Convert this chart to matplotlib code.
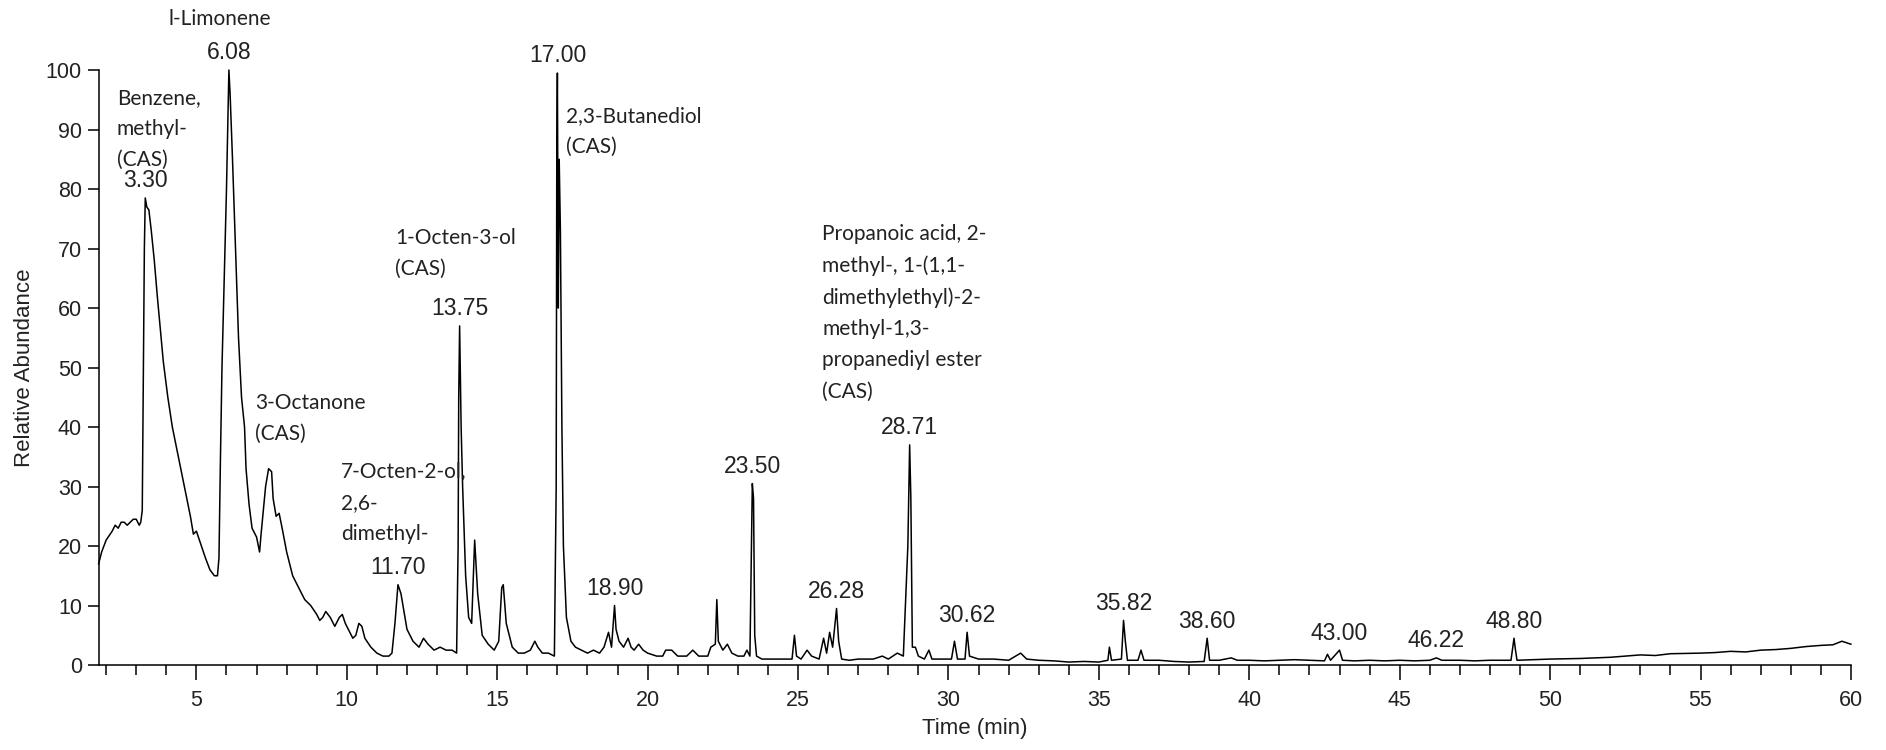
import numpy as np
import matplotlib.pyplot as plt
from matplotlib.ticker import MultipleLocator

# chromatogram trace (time in min, relative abundance)
time_min = [
    1.75, 1.85, 2.0, 2.2, 2.3, 2.4, 2.5, 2.6, 2.7, 2.8, 2.9, 3.0, 3.1, 3.15,
    3.2, 3.24, 3.27, 3.3, 3.35, 3.42, 3.5, 3.6, 3.7, 3.9, 4.05, 4.2, 4.4, 4.6,
    4.8, 4.9, 5.0, 5.1, 5.3, 5.45, 5.6, 5.7, 5.75, 5.8, 5.85, 5.95, 6.0,
    6.05, 6.08, 6.12, 6.2, 6.3, 6.4, 6.5, 6.6, 6.65, 6.75, 6.85, 7.0, 7.1,
    7.15, 7.3, 7.4, 7.5, 7.55, 7.65, 7.75, 7.85, 8.0, 8.2, 8.35, 8.45, 8.6,
    8.8, 9.0, 9.1, 9.2, 9.3, 9.45, 9.6, 9.75, 9.85, 9.95, 10.1, 10.2, 10.3,
    10.4, 10.5, 10.6, 10.8, 11.0, 11.2, 11.4, 11.5, 11.6, 11.7, 11.8, 11.9,
    12.0, 12.2, 12.4, 12.55, 12.7, 12.9, 13.1, 13.3, 13.5, 13.65, 13.7,
    13.72, 13.75, 13.8, 13.85, 13.95, 14.05, 14.15, 14.25, 14.35, 14.5,
    14.7, 14.9, 15.05, 15.15, 15.2, 15.3, 15.4, 15.5, 15.7, 15.9, 16.1,
    16.25, 16.35, 16.5, 16.7, 16.9, 16.96, 16.98, 17.0, 17.03, 17.06, 17.1,
    17.15, 17.2, 17.3, 17.45, 17.6, 17.8, 18.0, 18.2, 18.4, 18.55, 18.7, 18.8,
    18.9, 18.95, 19.05, 19.2, 19.35, 19.45, 19.55, 19.7, 19.85, 20.0, 20.3,
    20.5, 20.6, 20.8, 21.0, 21.3, 21.5, 21.7, 22.0, 22.1, 22.25, 22.3,
    22.35, 22.5, 22.65, 22.8, 23.0, 23.2, 23.3, 23.4, 23.48, 23.52, 23.56,
    23.62, 23.8, 24.0, 24.5, 24.8, 24.88, 24.95, 25.1, 25.3, 25.45, 25.7,
    25.85, 25.95, 26.05, 26.15, 26.28, 26.35, 26.45, 26.7, 27.0, 27.5, 27.8,
    28.0, 28.3, 28.5, 28.65, 28.71, 28.75, 28.8, 28.9, 29.0, 29.2, 29.35,
    29.45, 29.8, 30.1, 30.2, 30.3, 30.55, 30.62, 30.7, 31.0, 31.5, 32.0,
    32.4, 32.6, 33.0, 33.5, 34.0, 34.5, 35.0, 35.3, 35.35, 35.42, 35.75,
    35.82, 35.88, 35.95, 36.3, 36.4, 36.5, 37.0, 37.5, 38.0, 38.5, 38.6,
    38.68, 39.0, 39.4, 39.6, 40.0, 40.5, 41.0, 41.5, 42.0, 42.5, 42.6, 42.7,
    43.0, 43.1, 43.5, 44.0, 44.5, 45.0, 45.5, 46.0, 46.22, 46.4, 47.0, 47.5,
    48.0, 48.7, 48.8, 48.85, 48.9, 49.5, 50.0, 51.0, 52.0, 53.0, 53.5, 54.0,
    55.0, 55.5, 56.0, 56.5, 57.0, 57.5, 58.0, 58.5, 59.0, 59.4, 59.7, 60.0,
]
abundance = [
    17, 19, 21, 22.5, 23.5, 23, 24, 24, 23.5, 24, 24.5, 24.5, 23.5, 24,
    26, 50, 70, 78.5, 77, 76.5, 73, 68, 62, 51, 45, 40, 35, 30,
    25, 22, 22.5, 21, 18, 16, 15, 15, 18, 35, 50, 70, 80,
    92, 100, 96, 85, 70, 55, 45, 40, 33, 27, 23, 21.5, 19,
    22, 30, 33, 32.5, 28, 25, 25.5, 23, 19, 15, 13.5, 12.5, 11,
    10, 8.5, 7.5, 8, 9, 8, 6.5, 8, 8.5, 7, 5.5, 4.5, 5,
    7, 6.5, 4.5, 3, 2, 1.5, 1.5, 2, 7, 13.5, 12, 9,
    6, 4, 3, 4.5, 3.5, 2.5, 3, 2.5, 2.5, 2, 20,
    45, 57, 40, 30, 15, 8, 7, 21, 12, 5,
    3.5, 2.5, 4, 13, 13.5, 7, 5, 3, 2, 2, 2.5,
    4, 3, 2, 2, 1.5, 30, 86, 99.5, 60, 85, 73,
    40, 20, 8, 4, 3, 2.5, 2, 2.5, 2, 3, 5.5, 3,
    10, 6, 4, 3, 4.5, 3, 2.5, 3.5, 2.5, 2, 1.5,
    1.5, 2.5, 2.5, 1.5, 1.5, 2.5, 1.5, 1.5, 3, 3.5, 11,
    4, 2.5, 3.5, 2, 1.5, 1.5, 2.5, 1.5, 30.5, 28, 5,
    1.5, 1, 1, 1, 1, 5, 1.5, 1, 2.5, 1.5, 1,
    4.5, 2, 5.5, 3, 9.5, 4, 1, 0.8, 1, 1, 1.5,
    1, 2, 1.5, 20, 37, 28, 3, 3, 1.5, 1, 2.5,
    1, 1, 1, 4, 1, 1, 5.5, 1.5, 1, 1, 0.8,
    2, 1, 0.8, 0.7, 0.5, 0.6, 0.5, 0.8, 3, 0.8, 1,
    7.5, 4, 0.8, 0.8, 2.5, 0.8, 0.8, 0.6, 0.5, 0.6, 4.5,
    0.8, 0.8, 1.2, 0.8, 0.8, 0.7, 0.8, 0.9, 0.8, 0.7, 1.8, 0.8,
    2.5, 0.8, 0.7, 0.8, 0.7, 0.8, 0.7, 0.8, 1.2, 0.8, 0.8, 0.7,
    0.8, 0.8, 4.5, 2.5, 0.8, 0.9, 1.0, 1.1, 1.3, 1.7, 1.6, 1.9,
    2.0, 2.1, 2.3, 2.2, 2.5, 2.6, 2.8, 3.1, 3.3, 3.4, 4.0, 3.5,
]

# retention times that carry a number label
peak_rt = [3.30, 6.08, 11.70, 13.75, 17.00, 18.90, 23.50, 26.28, 28.71,
           30.62, 35.82, 38.60, 43.00, 46.22, 48.80]

# compound names: text, x (min), top y (abundance), alignment
names = [
    "l-Limonene",
    "Benzene,\nmethyl-\n(CAS)",
    "3-Octanone\n(CAS)",
    "7-Octen-2-ol,\n2,6-\ndimethyl-",
    "1-Octen-3-ol\n(CAS)",
    "2,3-Butanediol\n(CAS)",
    "Propanoic acid, 2-\nmethyl-, 1-(1,1-\ndimethylethyl)-2-\nmethyl-1,3-\npropanediyl ester\n(CAS)",
]
names_x = [5.76, 2.36, 6.96, 9.8, 11.6, 17.3, 25.8]
names_y = [110.2, 97.0, 45.8, 34.2, 73.5, 94.0, 74.2]
names_ha = ["center", "left", "left", "left", "left", "left", "left"]

t = np.array(time_min)
a = np.array(abundance)

fig = plt.figure(figsize=(18.86, 7.5), dpi=100)
ax = fig.add_axes([0.0523, 0.1133, 0.9291, 0.7933])

ax.plot(t, a, color="black", lw=1.1, clip_on=False)

ax.set_xlim(1.75, 60)
ax.set_ylim(0, 100)
ax.spines["top"].set_visible(False)
ax.spines["right"].set_visible(False)
for s in ("left", "bottom"):
    ax.spines[s].set_linewidth(1.1)

ax.xaxis.set_major_locator(MultipleLocator(5))
ax.xaxis.set_minor_locator(MultipleLocator(1))
ax.yaxis.set_major_locator(MultipleLocator(10))
ax.tick_params(axis="x", which="major", length=11, width=1.1, pad=7,
               labelsize=15.5)
ax.tick_params(axis="x", which="minor", length=7, width=1.1)
ax.tick_params(axis="y", which="major", length=8, width=1.1, pad=4,
               labelsize=15.5)
for lab in ax.get_xticklabels() + ax.get_yticklabels():
    lab.set_fontfamily("Liberation Sans")
    lab.set_color("#222222")

ax.set_xlabel("Time (min)", fontsize=16, family="Liberation Sans",
              color="#222222", labelpad=5)
ax.set_ylabel("Relative Abundance", fontsize=16, family="Liberation Sans",
              color="#222222", labelpad=8)

# number labels over the peaks
for rt in peak_rt:
    near = (t > rt - 0.1) & (t < rt + 0.1)
    top = a[near].max()
    ax.annotate(f"{rt:.2f}", (rt, top), xytext=(0, 4),
                textcoords="offset points", ha="center", va="bottom",
                fontsize=16.5, family="Liberation Sans", color="#222222",
                annotation_clip=False)

# compound names
for txt, x, y, ha in zip(names, names_x, names_y, names_ha):
    ax.text(x, y, txt, ha=ha, va="top", fontsize=15, family="Lato",
            color="#222222", linespacing=1.7, clip_on=False)

fig.savefig("out.png", dpi=100)
